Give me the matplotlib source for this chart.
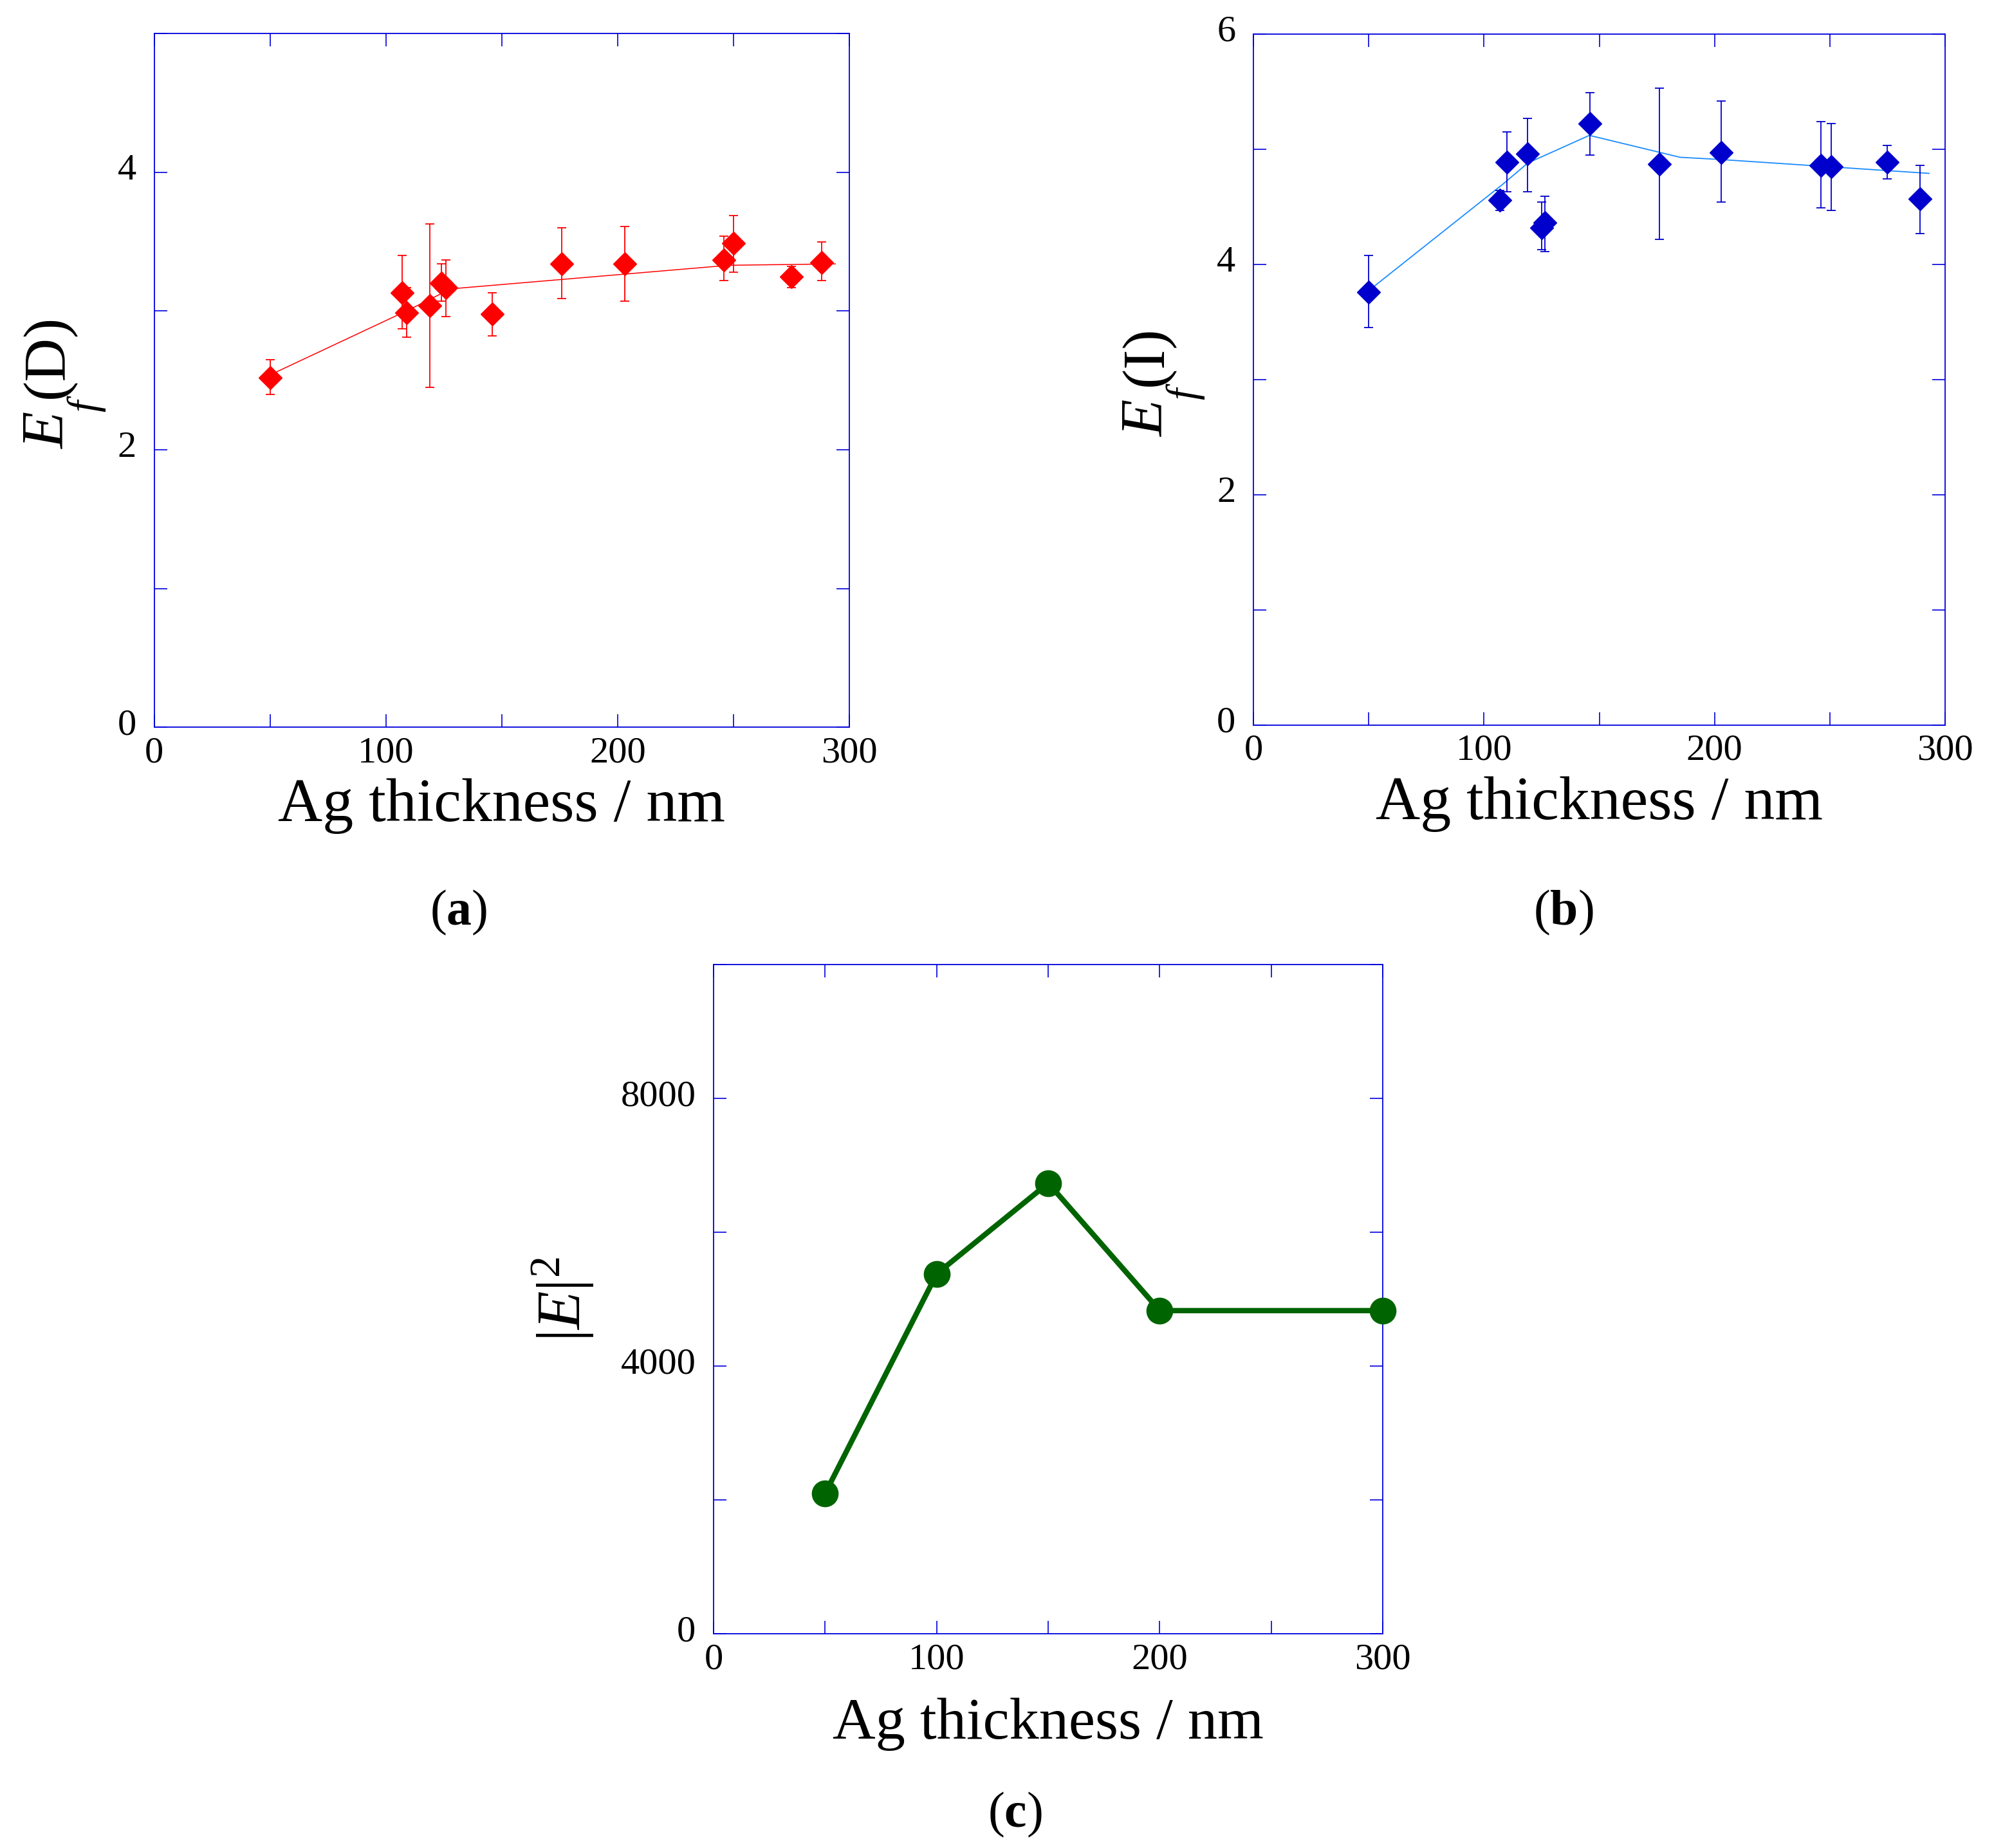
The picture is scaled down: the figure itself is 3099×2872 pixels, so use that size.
import matplotlib
matplotlib.use('Agg')
import matplotlib.pyplot as plt
import matplotlib.transforms as mtrans
from matplotlib.ticker import MultipleLocator

# --- data ---
# (a) Ef(D)
thick_a = [50, 107, 109, 119, 124, 126, 146, 176, 203, 246, 250, 275, 288]
ef_d = [2.52, 3.13, 2.99, 3.04, 3.20, 3.17, 2.98, 3.34, 3.34, 3.37, 3.49, 3.25, 3.35]
ef_d_hi = [2.65, 3.40, 3.17, 3.63, 3.34, 3.37, 3.13, 3.60, 3.61, 3.54, 3.69, 3.32, 3.50]
ef_d_lo = [2.40, 2.87, 2.81, 2.45, 3.07, 2.96, 2.82, 3.09, 3.07, 3.22, 3.28, 3.17, 3.22]
fit_a_x = [50, 110, 128, 248, 294]
fit_a_y = [2.54, 3.01, 3.16, 3.33, 3.34]

# (b) Ef(I)
thick_b = [50, 107, 110, 119, 125, 126.5, 146, 176, 203, 246, 250.5, 275, 289]
ef_i = [3.76, 4.56, 4.89, 4.96, 4.32, 4.36, 5.22, 4.87, 4.97, 4.86, 4.85, 4.89, 4.57]
ef_i_hi = [4.08, 4.64, 5.15, 5.27, 4.54, 4.59, 5.49, 5.53, 5.42, 5.24, 5.22, 5.03, 4.86]
ef_i_lo = [3.45, 4.47, 4.63, 4.63, 4.13, 4.11, 4.95, 4.22, 4.54, 4.49, 4.47, 4.74, 4.27]
fit_b_x = [48.6, 108.4, 119, 145.7, 185, 203, 293]
fit_b_y = [3.75, 4.70, 4.88, 5.12, 4.93, 4.91, 4.79]

# (c) |E|^2
thick_c = [50, 100, 150, 200, 300]
e_sq = [2100, 5380, 6735, 4830, 4830]

AXIS_BLUE = '#0000dd'
W, H = 3099, 2872

plt.rcParams['font.family'] = ['Liberation Serif', 'DejaVu Serif']
plt.rcParams['mathtext.fontset'] = 'custom'
plt.rcParams['mathtext.rm'] = 'Liberation Serif'
plt.rcParams['mathtext.it'] = 'Liberation Serif:italic'
plt.rcParams['mathtext.bf'] = 'Liberation Serif:bold'

fig = plt.figure(figsize=(W / 100, H / 100), dpi=100)

ax_a = fig.add_axes([0.0774, 0.6065, 0.3485, 0.3753])
ax_b = fig.add_axes([0.6286, 0.6076, 0.3469, 0.3740])
ax_c = fig.add_axes([0.3579, 0.1159, 0.3356, 0.3621])


def style_axis(ax, ymax, ymajor, yminor, xfs=69, xpad=10):
    ax.set_xlim(0, 300)
    ax.set_ylim(0, ymax)
    ax.xaxis.set_major_locator(MultipleLocator(100))
    ax.xaxis.set_minor_locator(MultipleLocator(50))
    ax.yaxis.set_major_locator(MultipleLocator(ymajor))
    ax.yaxis.set_minor_locator(MultipleLocator(yminor))
    for sp in ax.spines.values():
        sp.set_color(AXIS_BLUE)
        sp.set_linewidth(1.3)
    ax.tick_params(which='both', direction='in', top=True, right=True,
                   length=14.5, width=1.2, color=AXIS_BLUE, labelsize=42)
    ax.tick_params(axis='x', pad=10)
    ax.tick_params(axis='y', pad=20)
    ax.set_xlabel('Ag thickness / nm', fontsize=xfs, labelpad=xpad)


def ef_label(x_base, y_start, tail):
    # E (italic) + big lowered f + "(D)"/"(I)", rotated, positioned in pixels
    kw = dict(rotation=90, rotation_mode='anchor', ha='left', va='baseline',
              transform=fig.transFigure)
    fig.text(x_base / W, 1 - y_start / H, 'E', fontsize=67.5, style='italic', **kw)
    fig.text((x_base + 52) / W, 1 - (y_start - 58) / H, 'f', fontsize=47,
             style='italic', **kw)
    fig.text(x_base / W, 1 - (y_start - 79) / H, tail, fontsize=67.5, **kw)


# (a)
ax_a.plot(fit_a_x, fit_a_y, color='#ff0000', lw=1.1, zorder=2)
ax_a.errorbar(thick_a, ef_d,
              yerr=[[y - lo for y, lo in zip(ef_d, ef_d_lo)],
                    [hi - y for y, hi in zip(ef_d, ef_d_hi)]],
              fmt='D', color='#ff0000', ms=18, elinewidth=1.3,
              capsize=4.7, capthick=1.3, zorder=3)
style_axis(ax_a, 5, 2, 1)
ef_label(98, 698, '(D)')

# (b)
ax_b.plot(fit_b_x, fit_b_y, color='#1a8cff', lw=1.3, zorder=2)
ax_b.errorbar(thick_b, ef_i,
              yerr=[[y - lo for y, lo in zip(ef_i, ef_i_lo)],
                    [hi - y for y, hi in zip(ef_i, ef_i_hi)]],
              fmt='D', color='#0000cc', ms=18, elinewidth=1.3,
              capsize=4.7, capthick=1.3, zorder=3)
style_axis(ax_b, 6, 2, 1)
ef_label(1806, 679, '(I)')

# (c)
ax_c.plot(thick_c, e_sq, color='#006400', lw=6, marker='o', ms=29,
          zorder=3, clip_on=False)
style_axis(ax_c, 10000, 4000, 2000, xfs=66.5, xpad=24)
ax_c.set_ylabel(r'$|\mathit{E}|^{2}$', fontsize=70, labelpad=28)

# panel letters
fig.text(0.230, 0.506, r'($\mathbf{a}$)', fontsize=56, ha='center', va='center')
fig.text(0.784, 0.506, r'($\mathbf{b}$)', fontsize=56, ha='center', va='center')
fig.text(0.509, 0.018, r'($\mathbf{c}$)', fontsize=56, ha='center', va='center')

# y tick labels sit a little above their ticks in the original
fig.canvas.draw()
lift = mtrans.ScaledTranslation(0, 6.5 / 72, fig.dpi_scale_trans)
for ax in (ax_a, ax_b, ax_c):
    for lab in ax.get_yticklabels():
        lab.set_transform(lab.get_transform() + lift)

fig.savefig('out.png', dpi=100)
plt.close(fig)
